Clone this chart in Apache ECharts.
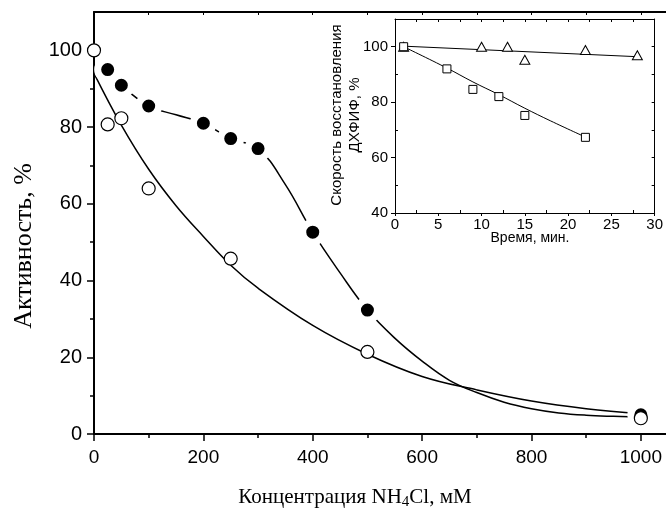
<!DOCTYPE html>
<html>
<head>
<meta charset="utf-8">
<script src="https://cdn.jsdelivr.net/npm/echarts@6/dist/echarts.min.js"></script>
<style>html,body{margin:0;padding:0;background:#fff}#c{width:666px;height:508px}</style>
</head>
<body>
<div id="c"></div>
<script>
// ---- main chart data ----
var openConc = [0, 25, 50, 100, 250, 500, 1000];
var openAct = [100, 80.7, 82.3, 64, 45.7, 21.4, 4.1];
var filledConc = [25, 50, 100, 200, 250, 300, 400, 500, 1000];
var filledAct = [95, 90.9, 85.5, 81, 77, 74.4, 52.6, 32.3, 5];
// curves
var openFitX = [0, 50, 100, 150, 200, 250, 300, 400, 500, 600, 700, 800, 900, 1000];
var openFitY = [94, 80.5, 69, 59.5, 51.5, 44, 38, 28.3, 20.8, 15, 11.5, 8.6, 6.6, 5.3];
var filledFitX = [25, 50, 100, 150, 200, 250, 300, 350, 400, 450, 500, 550, 600, 650, 700, 750, 800, 850, 900, 950, 980];
var filledFitY = [95, 90.9, 85.5, 83.2, 81, 77, 74.4, 65, 52.6, 42, 32.3, 25, 19, 14, 10.8, 8.3, 6.6, 5.5, 4.9, 4.6, 4.5];
var xTicks = [0, 200, 400, 600, 800, 1000];
var xMinor = [100, 300, 500, 700, 900];
var xTop = [100, 200, 300, 400, 500, 600, 700, 800, 900, 1000];
var yTicks = [0, 20, 40, 60, 80, 100];
var yMinor = [10, 30, 50, 70, 90];

// ---- inset data ----
var triTime = [1, 10, 13, 15, 22, 28];
var triVal = [100, 100, 100, 95.3, 98.8, 96.9];
var sqTime = [1, 6, 9, 12, 15, 22];
var sqVal = [100, 92, 84.6, 82, 75.2, 67.3];
var triFitX = [1, 28];
var triFitY = [100.2, 96.4];
var sqFitX = [1, 6, 9, 12, 15, 18, 22];
var sqFitY = [100, 92.3, 87.3, 82.7, 77.8, 73.2, 67.4];
var inXTicks = [0, 5, 10, 15, 20, 25, 30];
var inXMinor = [2.5, 7.5, 12.5, 17.5, 22.5, 27.5];
var inXTop = [2.5, 5, 7.5, 10, 12.5, 15, 17.5, 20, 22.5, 25, 27.5];
var inYTicks = [40, 60, 80, 100];
var inYMinor = [50, 70, 90];
var inYRight = [50, 60, 70, 80, 90, 100];

function zip(a, b) { return a.map(function (v, i) { return [v, b[i]]; }); }

var SANS = '"Liberation Sans", Arial, sans-serif';
var SERIF = '"Liberation Serif", "Times New Roman", serif';

function tickAxis(o) {
  return {
    type: 'value', gridIndex: o.grid, min: o.min, max: o.max, position: o.pos,
    splitLine: { show: false },
    axisLine: { show: !!o.line, onZero: false, lineStyle: { color: '#000', width: o.lw || 1 } },
    axisTick: { show: true, inside: !!o.inside, length: o.len, customValues: o.ticks, lineStyle: { color: '#000', width: o.tw || 1 } },
    axisLabel: o.labels ? { show: true, customValues: o.labels, color: '#000', fontFamily: SANS, fontSize: o.fs, margin: o.margin,
      formatter: function (v) { return String(v); } } : { show: false }
  };
}

var chart = echarts.init(document.getElementById('c'), null, { renderer: 'canvas' });
chart.setOption({
  animation: false,
  backgroundColor: '#fff',
  grid: [
    { left: 94, top: 12, right: 0, bottom: 74 },
    { left: 395, top: 19, right: 7, bottom: 295 }
  ],
  xAxis: [
    tickAxis({ grid: 0, min: 0, max: 1046, pos: 'bottom', line: true, lw: 2, len: 7, tw: 1.5, ticks: xTicks, labels: xTicks, fs: 19, margin: 14 }),
    tickAxis({ grid: 0, min: 0, max: 1046, pos: 'bottom', len: 4, tw: 1.5, ticks: xMinor }),
    tickAxis({ grid: 0, min: 0, max: 1046, pos: 'top', line: true, lw: 2, inside: true, len: 3, ticks: xTop }),
    tickAxis({ grid: 1, min: 0, max: 30, pos: 'bottom', line: true, len: 3, ticks: inXTicks, labels: inXTicks, fs: 15, margin: 4 }),
    tickAxis({ grid: 1, min: 0, max: 30, pos: 'bottom', inside: true, len: 3, ticks: inXMinor }),
    tickAxis({ grid: 1, min: 0, max: 30, pos: 'top', line: true, inside: true, len: 3, ticks: inXTop })
  ],
  yAxis: [
    tickAxis({ grid: 0, min: 0, max: 110, pos: 'left', line: true, lw: 2, len: 7, tw: 1.5, ticks: yTicks, labels: yTicks, fs: 20, margin: 12 }),
    tickAxis({ grid: 0, min: 0, max: 110, pos: 'left', len: 4, tw: 1.5, ticks: yMinor }),
    tickAxis({ grid: 1, min: 40, max: 110, pos: 'left', line: true, len: 4, ticks: inYTicks, labels: inYTicks, fs: 15, margin: 7 }),
    tickAxis({ grid: 1, min: 40, max: 110, pos: 'left', inside: true, len: 3, ticks: inYMinor }),
    tickAxis({ grid: 1, min: 40, max: 110, pos: 'right', line: true, inside: true, len: 3, ticks: inYRight })
  ],
  series: [
    { type: 'line', xAxisIndex: 0, yAxisIndex: 0, data: zip(openFitX, openFitY), smooth: 0.4, showSymbol: false, symbol: 'none', lineStyle: { color: '#000', width: 1.5 }, z: 2 },
    { type: 'line', xAxisIndex: 0, yAxisIndex: 0, data: zip(filledFitX, filledFitY), smooth: 0.4, showSymbol: false, symbol: 'none', lineStyle: { color: '#000', width: 1.5 }, z: 2 },
    { type: 'scatter', xAxisIndex: 0, yAxisIndex: 0, data: zip(filledConc, filledAct), symbol: 'circle', symbolSize: 20, clip: false,
      itemStyle: { color: '#000', borderColor: '#fff', borderWidth: 7, opacity: 1 }, z: 3 },
    { type: 'scatter', xAxisIndex: 0, yAxisIndex: 0, data: zip(openConc, openAct), symbol: 'circle', symbolSize: 13, clip: false,
      itemStyle: { color: '#fff', borderColor: '#000', borderWidth: 1.2, opacity: 1 }, z: 4 },
    // inset
    { type: 'line', xAxisIndex: 3, yAxisIndex: 2, data: zip(triFitX, triFitY), showSymbol: false, symbol: 'none', lineStyle: { color: '#000', width: 1 }, z: 2 },
    { type: 'line', xAxisIndex: 3, yAxisIndex: 2, data: zip(sqFitX, sqFitY), smooth: 0.4, showSymbol: false, symbol: 'none', lineStyle: { color: '#000', width: 1 }, z: 2 },
    { type: 'scatter', xAxisIndex: 3, yAxisIndex: 2, data: zip(triTime, triVal), symbol: 'triangle', symbolSize: [10, 9], clip: false,
      itemStyle: { color: '#fff', borderColor: '#000', borderWidth: 1, opacity: 1 }, z: 3 },
    { type: 'scatter', xAxisIndex: 3, yAxisIndex: 2, data: zip(sqTime, sqVal), symbol: 'rect', symbolSize: 8, clip: false,
      itemStyle: { color: '#fff', borderColor: '#000', borderWidth: 1, opacity: 1 }, z: 4 }
  ],
  graphic: [
    { type: 'text', x: 355, y: 497, z: 10,
      style: { text: '{a|Концентрация NH}{s|4}{a|Cl, мМ}', align: 'center', verticalAlign: 'middle', fill: '#000',
        rich: { a: { fontFamily: SERIF, fontSize: 21, fill: '#000' }, s: { fontFamily: SERIF, fontSize: 15, fill: '#000', padding: [10, 0, 0, 0] } } } },
    { type: 'text', x: 24, y: 246, rotation: Math.PI / 2, z: 10,
      style: { text: 'Активность, %', font: '26px ' + SERIF, align: 'center', verticalAlign: 'middle', fill: '#000' } },
    { type: 'text', x: 346, y: 115, rotation: Math.PI / 2, z: 10,
      style: { text: 'Скорость восстановления\nДХФИФ, %', font: '15px ' + SANS, lineHeight: 18, align: 'center', verticalAlign: 'middle', fill: '#000' } },
    { type: 'text', x: 530, y: 238, z: 10,
      style: { text: 'Время, мин.', font: '14px ' + SANS, align: 'center', verticalAlign: 'middle', fill: '#000' } }
  ]
});
</script>
</body>
</html>
